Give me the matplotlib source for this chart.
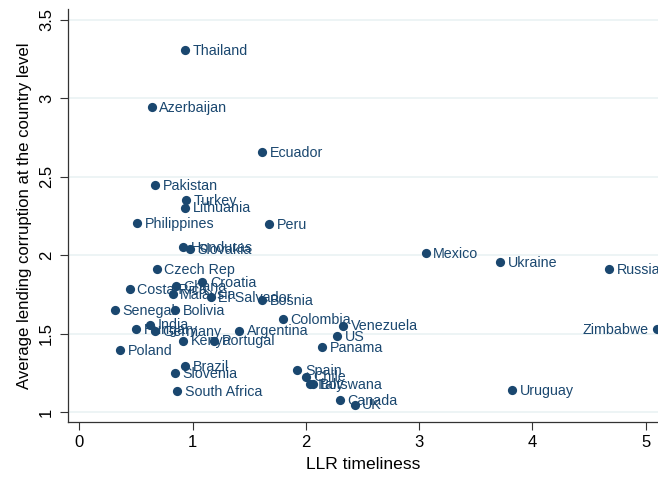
import matplotlib
matplotlib.use("Agg")
import matplotlib.pyplot as plt

plt.rcParams['font.family'] = ['Liberation Sans', 'DejaVu Sans']

countries = ["Thailand", "Azerbaijan", "Ecuador", "Pakistan", "Turkey", "Lithuania",
             "Philippines", "Peru", "Honduras", "Slovakia", "Czech Rep", "Croatia",
             "Ghana", "Costa Rica", "Malaysia", "El Salvador", "Bosnia", "Senegal",
             "Bolivia", "India", "Hungary", "Germany", "Argentina", "Kenya", "Portugal",
             "Poland", "Colombia", "Brazil", "Slovenia", "South Africa", "Spain", "Chile",
             "Italy", "Botswana", "Venezuela", "US", "Panama", "Canada", "UK",
             "Mexico", "Ukraine", "Russia", "Zimbabwe", "Uruguay"]
llr = [0.932, 0.640, 1.612, 0.667, 0.946, 0.932,
       0.511, 1.673, 0.917, 0.976, 0.682, 1.085,
       0.852, 0.446, 0.823, 1.159, 1.615, 0.314,
       0.844, 0.623, 0.499, 0.667, 1.412, 0.917, 1.191,
       0.358, 1.798, 0.935, 0.844, 0.864, 1.924, 2.001,
       2.036, 2.060, 2.331, 2.278, 2.145, 2.301, 2.431,
       3.058, 3.715, 4.678, 5.099, 3.821]
corruption = [3.309, 2.945, 2.658, 2.448, 2.352, 2.303,
              2.203, 2.199, 2.050, 2.040, 1.910, 1.827,
              1.804, 1.784, 1.751, 1.732, 1.714, 1.651,
              1.651, 1.557, 1.529, 1.517, 1.519, 1.455, 1.455,
              1.393, 1.593, 1.293, 1.247, 1.134, 1.268, 1.225,
              1.179, 1.179, 1.550, 1.485, 1.413, 1.077, 1.047,
              2.012, 1.955, 1.912, 1.527, 1.140]
left_labels = ["Zimbabwe"]

x_ticks = [0, 1, 2, 3, 4, 5]
y_ticks = [1, 1.5, 2, 2.5, 3, 3.5]
y_ticklabels = ["1", "1.5", "2", "2.5", "3", "3.5"]

navy = "#1a476f"

fig = plt.figure(figsize=(6.58, 4.8), dpi=100)
ax = fig.add_axes([68/658, 58/480, 590/658, 413/480])

ax.scatter(llr, corruption, s=44, color=navy, zorder=3, linewidths=0, clip_on=False)
for name, xv, yv in zip(countries, llr, corruption):
    if name in left_labels:
        ax.annotate(name, (xv, yv), xytext=(-6, -0.5), textcoords='offset points',
                    ha='right', va='center', fontsize=10.3, color=navy)
    else:
        ax.annotate(name, (xv, yv), xytext=(5.5, -0.5), textcoords='offset points',
                    ha='left', va='center', fontsize=10.3, color=navy, annotation_clip=False)

ax.set_xlim(-0.10, 5.11)
ax.set_ylim(0.936, 3.57)
ax.set_xticks(x_ticks)
ax.set_yticks(y_ticks)
ax.set_yticklabels(y_ticklabels, rotation=90, va='center')
ax.tick_params(axis='both', direction='out', length=6, width=0.8, labelsize=12, color='#333333')
ax.tick_params(axis='y', pad=4)
ax.grid(axis='y', color='#eaf2f3', linewidth=1.2, zorder=0)
ax.set_axisbelow(True)
for s in ['top', 'right']:
    ax.spines[s].set_visible(False)
for s in ['left', 'bottom']:
    ax.spines[s].set_color('#333333')
    ax.spines[s].set_linewidth(0.9)

ax.set_xlabel("LLR timeliness", fontsize=12.6, labelpad=5)
ax.set_ylabel("Average lending corruption at the country level", fontsize=12.1, labelpad=5)

fig.savefig("out.png", dpi=100)
